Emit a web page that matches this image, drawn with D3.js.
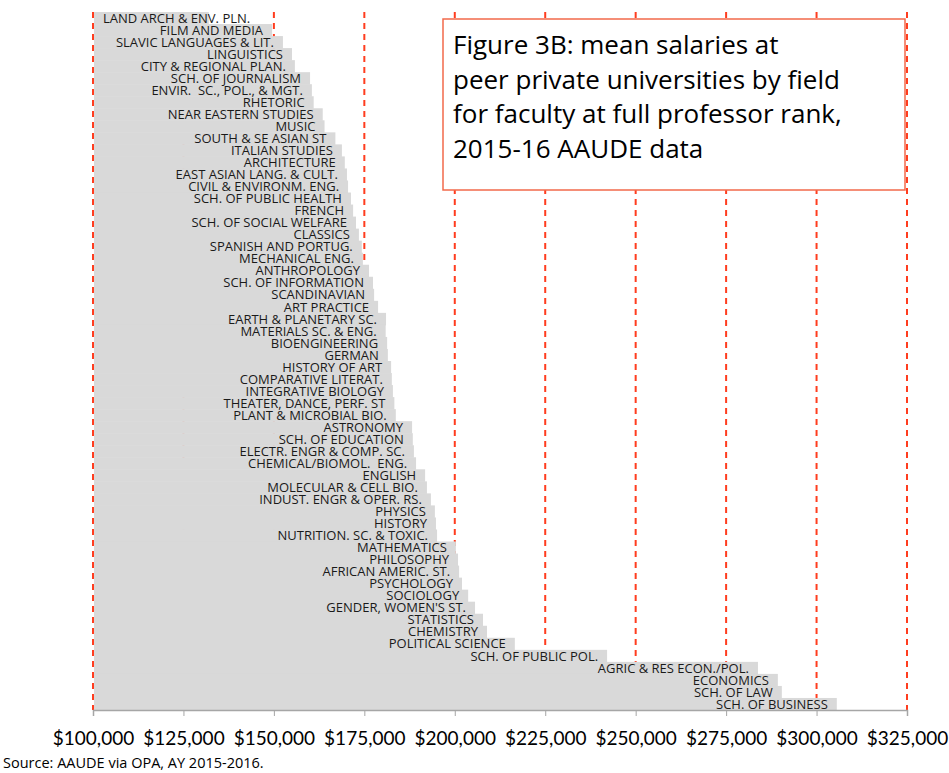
<!DOCTYPE html>
<html>
<head>
<meta charset="utf-8">
<script src="https://cdn.jsdelivr.net/npm/d3@7"></script>
<style>
  body { margin: 0; background: #fff; }
  svg { display: block; }
</style>
</head>
<body>
<div id="chart-area"></div>
<script>
// fields, top to bottom
var fields = [
  "LAND ARCH & ENV. PLN.", "FILM AND MEDIA", "SLAVIC LANGUAGES & LIT.", "LINGUISTICS",
  "CITY & REGIONAL PLAN.", "SCH. OF JOURNALISM", "ENVIR.  SC., POL., & MGT.", "RHETORIC",
  "NEAR EASTERN STUDIES", "MUSIC", "SOUTH & SE ASIAN ST", "ITALIAN STUDIES", "ARCHITECTURE",
  "EAST ASIAN LANG. & CULT.", "CIVIL & ENVIRONM. ENG.", "SCH. OF PUBLIC HEALTH", "FRENCH",
  "SCH. OF SOCIAL WELFARE", "CLASSICS", "SPANISH AND PORTUG.", "MECHANICAL ENG.",
  "ANTHROPOLOGY", "SCH. OF INFORMATION", "SCANDINAVIAN", "ART PRACTICE",
  "EARTH & PLANETARY SC.", "MATERIALS SC. & ENG.", "BIOENGINEERING", "GERMAN",
  "HISTORY OF ART", "COMPARATIVE LITERAT.", "INTEGRATIVE BIOLOGY", "THEATER, DANCE, PERF. ST",
  "PLANT & MICROBIAL BIO.", "ASTRONOMY", "SCH. OF EDUCATION", "ELECTR. ENGR & COMP. SC.",
  "CHEMICAL/BIOMOL.  ENG.", "ENGLISH", "MOLECULAR & CELL BIO.", "INDUST. ENGR & OPER. RS.",
  "PHYSICS", "HISTORY", "NUTRITION. SC. & TOXIC.", "MATHEMATICS", "PHILOSOPHY",
  "AFRICAN AMERIC. ST.", "PSYCHOLOGY", "SOCIOLOGY", "GENDER, WOMEN'S ST.", "STATISTICS",
  "CHEMISTRY", "POLITICAL SCIENCE", "SCH. OF PUBLIC POL.", "AGRIC & RES ECON./POL.",
  "ECONOMICS", "SCH. OF LAW", "SCH. OF BUSINESS"
];

// mean salary, full professor rank
var salaries = [
  132000, 149500, 152500, 155000, 155800, 160000, 160500, 161000,
  163500, 164000, 167000, 168800, 169600,
  170200, 170500, 171300, 171900,
  172700, 173500, 174300, 174600,
  176300, 177400, 177700, 178800,
  181000, 180900, 181300, 181500,
  182400, 182600, 182900, 183300,
  183700, 188200, 188400, 188700,
  189300, 191800, 192300, 193400,
  194500, 194800, 195100, 200300, 200900,
  201200, 202000, 203700, 205600, 207800,
  208900, 216600, 242100, 283800,
  289300, 290400, 305600
];

var ticks = [100000, 125000, 150000, 175000, 200000, 225000, 250000, 275000, 300000, 325000];

var titleLines = [
  "Figure 3B: mean salaries at",
  "peer private universities by field",
  "for faculty at full professor rank,",
  "2015-16 AAUDE data"
];

var sourceNote = "Source: AAUDE via OPA, AY 2015-2016.";

var width = 949, height = 773;
var margin = {left: 93, right: 42, top: 12, bottom: 63};

var svg = d3.select("#chart-area")
    .append("svg")
    .attr("width", width)
    .attr("height", height);

var x = d3.scaleLinear()
    .domain([100000, 325000])
    .range([margin.left, width - margin.right]);

var y = d3.scaleBand()
    .domain(fields)
    .range([margin.top, height - margin.bottom])
    .padding(0);

// dashed gridlines, under the bars
svg.append("g")
    .selectAll("line")
    .data(ticks)
    .enter()
    .append("line")
    .attr("x1", function (d) { return x(d); })
    .attr("x2", function (d) { return x(d); })
    .attr("y1", margin.top)
    .attr("y2", height - margin.bottom)
    .attr("stroke", "#ff3d1f")
    .attr("stroke-width", 2)
    .attr("stroke-dasharray", "6,5");

// bars
svg.append("g")
    .selectAll("rect")
    .data(salaries)
    .enter()
    .append("rect")
    .attr("x", x(100000) + 1)
    .attr("y", function (d, i) { return y(fields[i]); })
    .attr("width", function (d) { return x(d) - x(100000) - 1; })
    .attr("height", y.bandwidth() + 0.5)
    .attr("fill", "#d9d9d9");

// labels sit just inside the bar end, but never left of the axis
var labels = svg.append("g")
    .selectAll("text")
    .data(salaries)
    .enter()
    .append("text")
    .attr("y", function (d, i) { return y(fields[i]) + y.bandwidth() / 2; })
    .attr("dy", "0.36em")
    .attr("text-anchor", "end")
    .attr("font-family", "'Open Sans', sans-serif")
    .attr("font-size", "13px")
    .attr("fill", "#1a1a1a")
    .style("white-space", "pre")
    .text(function (d, i) { return fields[i]; });

labels.attr("x", function (d) {
    var w = this.getComputedTextLength();
    return Math.max(x(d) - 9, x(100000) + 10 + w);
});

// x axis
var axis = svg.append("g")
    .attr("transform", "translate(0," + (height - margin.bottom) + ")")
    .call(d3.axisBottom(x)
        .tickValues(ticks)
        .tickSize(6)
        .tickFormat(function (d) { return "$" + d3.format(",")(d); }));

axis.select(".domain").attr("stroke", "#a6a6a6").attr("stroke-width", 1.5);
axis.selectAll(".tick line").attr("stroke", "#a6a6a6");
axis.selectAll(".tick text")
    .attr("y", 22)
    .attr("dy", "0.71em")
    .attr("font-family", "Lato, sans-serif")
    .attr("font-size", "19px")
    .attr("fill", "#000");

// title box
svg.append("rect")
    .attr("x", 443)
    .attr("y", 19)
    .attr("width", 462)
    .attr("height", 171)
    .attr("fill", "#fff")
    .attr("stroke", "#f26a4b")
    .attr("stroke-width", 1.5);

svg.append("g")
    .selectAll("text")
    .data(titleLines)
    .enter()
    .append("text")
    .attr("x", 453)
    .attr("y", function (d, i) { return 54 + i * 34.6; })
    .attr("font-family", "'Open Sans', sans-serif")
    .attr("font-size", "26px")
    .attr("fill", "#000")
    .text(function (d) { return d; });

svg.append("text")
    .attr("x", 3)
    .attr("y", 768)
    .attr("font-family", "'Open Sans', sans-serif")
    .attr("font-size", "14.5px")
    .attr("fill", "#000")
    .text(sourceNote);
</script>
</body>
</html>
